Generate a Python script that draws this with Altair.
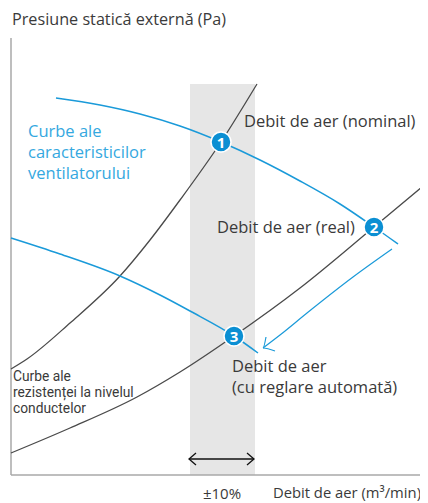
import altair as alt
import pandas as pd

# ---- data (abstract units: airflow x, static pressure y) ----
fan_hi_x = [45, 89, 129, 169, 210, 249, 289, 329, 363, 387]
fan_hi_y = [377, 370, 361, 349, 333, 315, 294, 271, 248, 231]

fan_lo_x = [0, 49, 109, 149, 179, 223, 247]
fan_lo_y = [237, 221, 199, 180, 164, 139, 122]

duct_hi_x = [0, 16, 59, 109, 139, 169, 210, 246]
duct_hi_y = [106, 116, 152, 199, 235, 275, 333, 391]

duct_lo_x = [0, 59, 126, 169, 223, 289, 363, 411]
duct_lo_y = [22, 47, 78, 103, 139, 187, 248, 288]

arrow_x = [381, 342, 296, 269, 252]
arrow_y = [226, 198, 162, 140, 127]
arrow_head_x = [255, 252, 264]
arrow_head_y = [138, 127, 124]

band_x = [179, 244]
band_top = 391

axis_x_end = 411
axis_y_end = 437

pt_labels = ["1", "2", "3"]
pt_x = [210, 363, 223]
pt_y = [333, 248, 139]

tol_left = [185, 178, 185]
tol_left_y = [22, 16, 10]
tol_right = [236, 243, 236]
tol_line_x = [178, 243]
tol_y = 16

BLUE = "#1a9ad9"
DOT = "#0b8fd3"
DARK = "#4a4a4a"
TXT = "#3a3a3a"
TXT_BLUE = "#35a8e0"

W = 412
H = 495
xs = alt.Scale(domain=[-3, W - 3], nice=False, zero=False)
ys = alt.Scale(domain=[467 - H, 467], nice=False, zero=False)


def X(f="x"):
    return alt.X(f"{f}:Q", scale=xs, axis=None)


def Y(f="y"):
    return alt.Y(f"{f}:Q", scale=ys, axis=None)


def curve_df(xv, yv, name):
    return pd.DataFrame({"x": xv, "y": yv, "i": list(range(len(xv))), "c": name})


band = alt.Chart(pd.DataFrame({"x": [band_x[0]], "x2": [band_x[1]], "y": [0], "y2": [band_top]})).mark_rect(
    color="#e6e6e6"
).encode(x=X(), x2="x2", y=Y(), y2="y2")

axes_df = pd.DataFrame({"x": [0, 0], "x2": [axis_x_end, 0], "y": [0, 0], "y2": [0, axis_y_end]})
axes = alt.Chart(axes_df).mark_rule(color="#a8a8a8", strokeWidth=1.5).encode(
    x=X(), x2="x2", y=Y(), y2="y2"
)

gray_df = pd.concat([curve_df(duct_hi_x, duct_hi_y, "a"), curve_df(duct_lo_x, duct_lo_y, "b")])
gray = alt.Chart(gray_df).mark_line(color=DARK, strokeWidth=1.3, interpolate="monotone").encode(
    x=X(), y=Y(), detail="c:N", order="i:Q"
)

blue_df = pd.concat([curve_df(fan_hi_x, fan_hi_y, "a"), curve_df(fan_lo_x, fan_lo_y, "b")])
blue = alt.Chart(blue_df).mark_line(color=BLUE, strokeWidth=1.5, interpolate="monotone").encode(
    x=X(), y=Y(), detail="c:N", order="i:Q"
)

arr_df = pd.concat([curve_df(arrow_x, arrow_y, "a"), curve_df(arrow_head_x, arrow_head_y, "h")])
arrow = alt.Chart(arr_df).mark_line(color=BLUE, strokeWidth=1.2, interpolate="monotone").encode(
    x=X(), y=Y(), detail="c:N", order="i:Q"
)

tol_df = pd.concat([
    curve_df(tol_line_x, [tol_y, tol_y], "l"),
    curve_df(tol_left, tol_left_y, "a"),
    curve_df(tol_right, tol_left_y, "b"),
])
tol = alt.Chart(tol_df).mark_line(color="#111111", strokeWidth=1.3).encode(
    x=X(), y=Y(), detail="c:N", order="i:Q"
)

pts_df = pd.DataFrame({"x": pt_x, "y": pt_y, "t": pt_labels})
dots = alt.Chart(pts_df).mark_circle(size=400, color=DOT, opacity=1, stroke="white", strokeWidth=1.5).encode(
    x=X(), y=Y()
)
nums = alt.Chart(pts_df).mark_text(color="white", fontSize=15, fontWeight="bold", font="Open Sans",
                                   baseline="middle", align="center", dy=0.5).encode(
    x=X(), y=Y(), text="t:N"
)

dark_text = pd.DataFrame({
    "x": [1, 233, 206, 221, 221, 211, 410],
    "y": [455, 353, 247, 108, 87, -19, -19],
    "t": ["Presiune statică externă (Pa)", "Debit de aer (nominal)", "Debit de aer (real)",
          "Debit de aer", "(cu reglare automată)", "±10%", "Debit de aer (m³/min)"],
    "a": ["left", "left", "left", "left", "left", "center", "right"],
    "s": [16.2, 16.5, 16.5, 16.5, 16.5, 15, 14.8],
})
texts = []
for _, r in dark_text.iterrows():
    texts.append(
        alt.Chart(pd.DataFrame([r])).mark_text(color=TXT, fontSize=r["s"], font="Open Sans",
                                               align=r["a"], baseline="middle").encode(
            x=X(), y=Y(), text="t:N")
    )

blue_text = pd.DataFrame({"x": [17, 17, 17], "y": [343, 322, 301],
                          "t": ["Curbe ale", "caracteristicilor", "ventilatorului"]})
btext = alt.Chart(blue_text).mark_text(color=TXT_BLUE, fontSize=16.5, font="Open Sans",
                                        align="left", baseline="middle").encode(x=X(), y=Y(), text="t:N")

duct_text = pd.DataFrame({"x": [2, 2, 2], "y": [98, 82, 66],
                          "t": ["Curbe ale", "rezistenței la nivelul", "conductelor"]})
dtext = alt.Chart(duct_text).mark_text(color=TXT, fontSize=13.8, font="Roboto",
                                        align="left", baseline="middle").encode(x=X(), y=Y(), text="t:N")

chart = alt.layer(band, axes, gray, blue, arrow, tol, dots, nums, btext, dtext, *texts).properties(
    width=W, height=H, padding=0, autosize=alt.AutoSizeParams(type="none")
).configure_view(stroke=None)

chart.save("out.html", embed_options={"renderer": "svg", "actions": False})
